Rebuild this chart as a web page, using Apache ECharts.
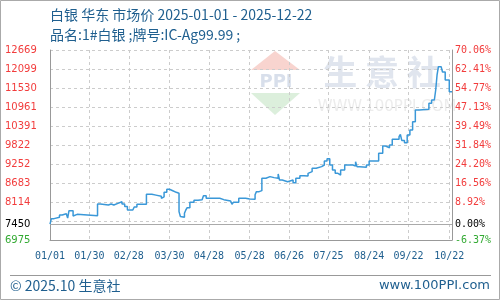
<!DOCTYPE html>
<html><head><meta charset="utf-8">
<script src="https://cdn.jsdelivr.net/npm/echarts@6/dist/echarts.min.js"></script>
<style>html,body{margin:0;padding:0;background:#fff}#c{width:500px;height:300px}</style>
</head><body><div id="c"></div>
<script>
// ---- data ----
const titleText = '白银 华东 市场价 2025-01-01 - 2025-12-22';
const subTitleText = '品名:1#白银 ;牌号:IC-Ag99.99 ;';
const footerLeft = '© 2025.10 生意社';
const footerRight = 'www.100PPI.com';
const basePrice = 7450;
const yMin = 6975, yMax = 12669;
const leftTickVals = [6975, 7450, 8114, 8683, 9252, 9822, 10391, 10961, 11530, 12099, 12669];
const rightTickLabels = ['-6.37%', '0.00%', '8.92%', '16.56%', '24.20%', '31.84%', '39.49%', '47.13%', '54.77%', '62.41%', '70.06%'];
const xTickDates = ['01/01','01/30','02/28','03/30','04/28','05/28','06/26','07/25','08/24','09/22','10/22'];
const firstDay = '2025-01-01', lastDay = '2025-10-24';
const priceDates = ['01/01','01/02','01/04','01/08','01/10','01/13','01/14','01/15','01/18','01/19','01/21','02/05','02/07','02/13','02/15','02/17','02/18','02/20','02/23','02/25','02/27','03/03','03/04','03/06','03/13','03/17','03/20','03/24','03/25','03/26','03/28','03/30','04/01','04/04','04/06','04/07','04/08','04/10','04/11','04/12','04/14','04/17','04/20','04/23','04/24','04/26','05/06','05/09','05/14','05/15','05/16','05/20','05/25','05/26','05/28','06/01','06/02','06/04','06/06','06/09','06/12','06/15','06/18','06/19','06/21','06/25','06/26','06/29','07/01','07/04','07/07','07/10','07/11','07/13','07/16','07/20','07/22','07/24','07/26','07/28','07/30','08/01','08/03','08/06','08/12','08/14','08/15','08/17','08/22','08/24','08/31','09/03','09/05','09/08','09/10','09/15','09/16','09/17','09/19','09/21','09/23','09/25','09/27','09/30','10/07','10/09','10/11','10/12','10/13','10/14','10/16','10/17','10/19','10/22','10/24'];
const priceValues = [7450,7615,7655,7724,7763,7724,7634,7853,7694,7743,7703,8054,8024,8054,8024,7974,8074,8123,8054,7980,7874,7894,7964,8044,8344,8320,8284,8224,8270,8404,8494,8460,8404,8374,7824,7680,7655,7774,7874,7944,8104,8164,8184,8224,8304,8224,8184,8144,8104,8044,8104,8224,8244,8204,8194,8330,8424,8454,8824,8874,8844,8824,8953,8773,8720,8674,8773,8690,8824,8903,8890,8973,9023,9124,9173,9223,9343,9413,9223,9073,8973,8923,9073,9223,9193,9323,9173,9153,9223,9343,9573,9792,9740,9822,9992,10071,10140,9960,9891,10121,10271,10521,10871,10892,11071,11171,11120,11470,11920,12170,12190,12010,11770,11420,11420];

// daily category axis
const categories = [];
for (let d = new Date(firstDay + 'T00:00:00Z'); d <= new Date(lastDay + 'T00:00:00Z'); d.setUTCDate(d.getUTCDate() + 1)) {
  const m = String(d.getUTCMonth() + 1).padStart(2, '0');
  const dd = String(d.getUTCDate()).padStart(2, '0');
  categories.push(m + '/' + dd);
}
const seriesData = priceDates.map((d, i) => [d, priceValues[i]]);

const RED = '#f23c3c', GREEN = '#33aa33', BLUE = '#1f5f8f';
function tickColor(v) {
  v = Number(v);
  if (Math.abs(v - basePrice) < 1) return '#000';
  return v > basePrice ? RED : GREEN;
}
function idxOf(v) {
  v = Number(v);
  let best = 0;
  leftTickVals.forEach((t, i) => { if (Math.abs(t - v) < Math.abs(leftTickVals[best] - v)) best = i; });
  return best;
}
const isXTick = (idx, val) => xTickDates.indexOf(val) >= 0;

const chart = echarts.init(document.getElementById('c'), null, {renderer: 'canvas'});
chart.setOption({
  animation: false,
  backgroundColor: '#fff',
  grid: {left: 50, top: 50, width: 402, height: 190},
  xAxis: {
    type: 'category', data: categories, boundaryGap: false,
    axisLine: {lineStyle: {color: '#999', width: 1}},
    axisTick: {show: false},
    axisLabel: {interval: isXTick, color: BLUE, fontFamily: 'DejaVu Sans Mono', fontSize: 10, margin: 11},
    splitLine: {show: true, interval: isXTick, lineStyle: {color: '#ccc', type: [3, 3]}}
  },
  yAxis: [
    {
      type: 'value', min: yMin, max: yMax, position: 'left',
      axisLine: {show: true, lineStyle: {color: '#999', width: 1}},
      axisTick: {show: false}, splitLine: {show: false},
      axisLabel: {customValues: leftTickVals, formatter: v => String(leftTickVals[idxOf(v)]),
        color: v => tickColor(v), align: 'left', margin: 45, fontFamily: 'DejaVu Sans', fontSize: 10}
    },
    {
      type: 'value', min: yMin, max: yMax, position: 'right',
      axisLine: {show: true, lineStyle: {color: '#999', width: 1}},
      axisTick: {show: false}, splitLine: {show: false},
      axisLabel: {customValues: leftTickVals, formatter: v => rightTickLabels[idxOf(v)],
        color: v => tickColor(v), align: 'left', margin: 3, fontFamily: 'DejaVu Sans Mono', fontSize: 10}
    },
    {
      type: 'value', min: 0, max: 10, interval: 1, position: 'left',
      axisLine: {show: false}, axisTick: {show: false}, axisLabel: {show: false},
      splitLine: {show: true, lineStyle: {color: '#ccc', type: [3, 3]}}
    }
  ],
  series: [{
    type: 'line', yAxisIndex: 0, step: 'end', showSymbol: false, data: seriesData,
    lineStyle: {color: '#3a98d8', width: 1.5}, z: 5,
    markLine: {silent: true, symbol: 'none', label: {show: false},
      lineStyle: {type: 'solid', color: '#aaa', width: 1},
      data: [{yAxis: basePrice}]}
  }],
  graphic: [
    {type: 'rect', z: -20, shape: {x: 0.5, y: 0.5, width: 499, height: 299}, style: {fill: null, stroke: '#aaa', lineWidth: 1}},
    {type: 'polygon', z: -10, shape: {points: [[275, 51], [300, 70], [251, 70]]}, style: {fill: '#f8d4cf'}},
    {type: 'text', z: -10, style: {text: 'PPI', x: 276, y: 82, textAlign: 'center', textVerticalAlign: 'middle', font: 'bold 18px "DejaVu Sans"', fill: '#d8dfeb'}},
    {type: 'polygon', z: -10, shape: {points: [[251, 93], [300, 93], [275, 115]]}, style: {fill: '#dcefdc'}},
    {type: 'text', z: -10, style: {text: '生 意 社', x: 382, y: 72, textAlign: 'center', textVerticalAlign: 'middle', font: 'bold 34px "Noto Sans CJK SC"', fill: '#e0e5ee'}},
    {type: 'text', z: -10, style: {text: 'WWW.100PPI.COM', x: 387, y: 107, textAlign: 'center', textVerticalAlign: 'middle', font: '15px "DejaVu Sans"', fill: '#ececec'}},
    {type: 'text', style: {text: titleText, x: 50, y: 15, textVerticalAlign: 'middle', font: '14px "Noto Sans CJK SC"', fill: BLUE}},
    {type: 'text', style: {text: subTitleText, x: 50, y: 35, textVerticalAlign: 'middle', font: '14px "Noto Sans CJK SC"', fill: BLUE}},
    {type: 'line', shape: {x1: 10, y1: 275.5, x2: 491, y2: 275.5}, style: {stroke: '#999', lineWidth: 1}},
    {type: 'text', style: {text: footerLeft, x: 10, y: 286, textVerticalAlign: 'middle', font: '14px "Noto Sans CJK SC"', fill: BLUE}},
    {type: 'text', style: {text: footerRight, x: 490, y: 286, textAlign: 'right', textVerticalAlign: 'middle', font: '13px "DejaVu Sans"', fill: BLUE}}
  ]
});
</script></body></html>
